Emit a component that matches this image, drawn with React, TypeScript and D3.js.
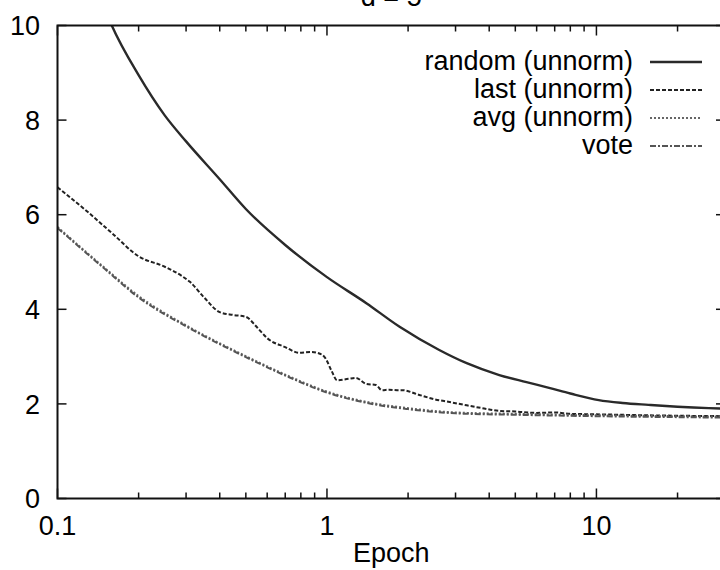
import React from "react";
import * as d3 from "d3";

const title = "d = 5";
const xLabel = "Epoch";
const yTicks = [0, 2, 4, 6, 8, 10];
const xMajor = [0.1, 1, 10];
const xMinor = [0.2, 0.3, 0.4, 0.5, 0.6, 0.7, 0.8, 0.9, 2, 3, 4, 5, 6, 7, 8, 9, 20];

const randomX = [0.1, 0.13, 0.159, 0.2, 0.25, 0.3, 0.4, 0.5, 0.7, 1, 1.4, 1.86, 2.61, 3.3, 4.36, 5.5, 6.67, 8, 10.2, 12.5, 15.6, 20, 26.1, 30];
const randomY = [13.2, 11.3, 10.0, 8.95, 8.1, 7.55, 6.75, 6.12, 5.36, 4.68, 4.13, 3.63, 3.14, 2.86, 2.61, 2.46, 2.34, 2.22, 2.08, 2.02, 1.98, 1.94, 1.91, 1.9];

const lastX = [0.1, 0.13, 0.16, 0.2, 0.25, 0.29, 0.31, 0.35, 0.4, 0.45, 0.5, 0.55, 0.6, 0.7, 0.79, 0.87, 0.92, 0.98, 1.04, 1.09, 1.2, 1.28, 1.4, 1.52, 1.6, 1.7, 1.82, 1.9, 2.2, 2.5, 2.85, 3.3, 3.77, 4.4, 5, 6, 7, 8, 10, 15, 20, 30];
const lastY = [6.58, 6.05, 5.6, 5.12, 4.9, 4.7, 4.58, 4.25, 3.94, 3.88, 3.84, 3.62, 3.39, 3.2, 3.08, 3.1, 3.08, 2.99, 2.7, 2.5, 2.53, 2.55, 2.42, 2.4, 2.29, 2.3, 2.29, 2.29, 2.19, 2.1, 2.04, 1.97, 1.91, 1.85, 1.84, 1.81, 1.82, 1.79, 1.78, 1.76, 1.75, 1.74];

const avgX = [0.1, 0.15, 0.2, 0.3, 0.5, 0.7, 1, 1.5, 2, 3, 5, 10, 20, 30];
const avgY = [5.74, 4.87, 4.28, 3.66, 3.01, 2.62, 2.26, 2.01, 1.91, 1.82, 1.79, 1.76, 1.74, 1.73];

const voteX = [0.1, 0.15, 0.2, 0.3, 0.5, 0.7, 1, 1.5, 2, 3, 5, 10, 20, 30];
const voteY = [5.72, 4.85, 4.25, 3.64, 2.99, 2.6, 2.24, 1.99, 1.89, 1.8, 1.77, 1.74, 1.72, 1.71];

const seriesNames = ["random (unnorm)", "last (unnorm)", "avg (unnorm)", "vote"];

export default function App() {
  const W = 720, H = 570;
  const L = 57.5, R = 725, T = 25.5, B = 498.5;
  const x = d3.scaleLog().domain([0.1, 30]).range([L, R]);
  const y = d3.scaleLinear().domain([0, 10]).range([B, T]);
  const line = (xs: number[], ys: number[]) =>
    d3.line<number>().x((_, i) => x(xs[i])).y((v) => y(v)).curve(d3.curveMonotoneX)(ys) || "";

  const styles = [
    { stroke: "#2a2a2a", width: 2.4, dash: "" },
    { stroke: "#222", width: 2, dash: "4,2" },
    { stroke: "#666", width: 2, dash: "2,2" },
    { stroke: "#555", width: 2, dash: "6,2,2,2" },
  ];
  const data: [number[], number[]][] = [
    [randomX, randomY],
    [lastX, lastY],
    [avgX, avgY],
    [voteX, voteY],
  ];
  const font = "'Liberation Sans', Arial, sans-serif";
  const fs = 27;
  const legendY = [62, 90, 118, 146];

  return (
    <svg width={W} height={H} style={{ position: "fixed", left: 0, top: 0, background: "#fff" }} fontFamily={font}>
      <defs>
        <clipPath id="plotclip">
          <rect x={L} y={T} width={R - L} height={B - T} />
        </clipPath>
      </defs>
      <rect x={0} y={0} width={W} height={H} fill="#fff" />
      <g clipPath="url(#plotclip)">
        {data.map(([xs, ys], i) => (
          <path key={i} d={line(xs, ys)} fill="none" stroke={styles[i].stroke} strokeWidth={styles[i].width} strokeDasharray={styles[i].dash || undefined} />
        ))}
      </g>
      {/* ticks */}
      {yTicks.map((t) => (
        <g key={"y" + t}>
          <line x1={L} x2={L + 9} y1={y(t)} y2={y(t)} stroke="#111" strokeWidth={1.5} />
          <line x1={R} x2={R - 9} y1={y(t)} y2={y(t)} stroke="#111" strokeWidth={1.5} />
          <text x={40} y={y(t) + 9.7} textAnchor="end" fontSize={fs} fill="#000">{t}</text>
        </g>
      ))}
      {xMajor.map((t) => (
        <g key={"xm" + t}>
          <line x1={x(t)} x2={x(t)} y1={B} y2={B - 10} stroke="#111" strokeWidth={1.5} />
          <line x1={x(t)} x2={x(t)} y1={T} y2={T + 10} stroke="#111" strokeWidth={1.5} />
          <text x={x(t)} y={535} textAnchor="middle" fontSize={fs} fill="#000">{t}</text>
        </g>
      ))}
      {xMinor.map((t) => (
        <g key={"xn" + t}>
          <line x1={x(t)} x2={x(t)} y1={B} y2={B - 6} stroke="#111" strokeWidth={1.5} />
          <line x1={x(t)} x2={x(t)} y1={T} y2={T + 6} stroke="#111" strokeWidth={1.5} />
        </g>
      ))}
      <rect x={L} y={T} width={R - L} height={B - T} fill="none" stroke="#111" strokeWidth={2} />
      <text x={(L + R) / 2} y={562} textAnchor="middle" fontSize={fs} fill="#000">{xLabel}</text>
      <text x={(L + R) / 2} y={6} textAnchor="middle" fontSize={fs} fill="#000">{title}</text>
      {seriesNames.map((n, i) => (
        <g key={n}>
          <text x={633} y={legendY[i] + 8} textAnchor="end" fontSize={fs} fill="#000">{n}</text>
          <line x1={650} x2={702} y1={legendY[i]} y2={legendY[i]} stroke={styles[i].stroke} strokeWidth={styles[i].width} strokeDasharray={styles[i].dash || undefined} />
        </g>
      ))}
    </svg>
  );
}
